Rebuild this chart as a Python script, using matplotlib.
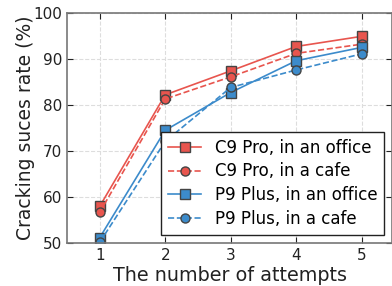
import matplotlib
matplotlib.use("Agg")
import matplotlib.pyplot as plt

attempts = [1, 2, 3, 4, 5]
c9_office = [58.0, 82.2, 87.4, 92.7, 94.9]
c9_cafe = [56.7, 81.3, 86.1, 91.2, 93.2]
p9_office = [51.2, 74.5, 82.7, 89.6, 92.5]
p9_cafe = [50.2, 72.1, 83.8, 87.6, 91.1]

red = "#E8554E"
blue = "#3C8BCB"

fig = plt.figure(figsize=(3.92, 2.86), dpi=100)
ax = fig.add_axes([0.171, 0.150, 0.83, 0.805])

ax.plot(attempts, c9_office, "-s", color=red, mec="#444444", ms=6.5, lw=1.2, label="C9 Pro, in an office")
ax.plot(attempts, c9_cafe, "--o", color=red, mec="#444444", ms=6.5, lw=1.2, label="C9 Pro, in a cafe")
ax.plot(attempts, p9_office, "-s", color=blue, mec="#444444", ms=6.5, lw=1.2, label="P9 Plus, in an office")
ax.plot(attempts, p9_cafe, "--o", color=blue, mec="#444444", ms=6.5, lw=1.2, label="P9 Plus, in a cafe")

ax.set_xlim(0.5, 5.47)
ax.set_ylim(50, 100)
ax.set_xticks(attempts)
ax.set_yticks([50, 60, 70, 80, 90, 100])
ax.grid(True, ls="--", color="#dddddd", lw=0.8)
ax.set_axisbelow(True)
for s in ax.spines.values():
    s.set_color("#777777")
    s.set_linewidth(1.2)
ax.tick_params(direction="in", top=True, right=True, labelsize=11, colors="#222222", length=4)
ax.set_xlabel("The number of attempts", fontsize=13.8, color="#222222", labelpad=2)
ax.set_ylabel("Cracking suces rate (%)", fontsize=13.5, color="#222222", labelpad=-1)

leg = ax.legend(loc="lower right", fontsize=12, fancybox=False, framealpha=1,
                edgecolor="#222222", handlelength=2.0, borderaxespad=0.5,
                labelspacing=0.35, handletextpad=0.8)
leg.get_frame().set_linewidth(1.0)

fig.savefig("out.png", dpi=100)
